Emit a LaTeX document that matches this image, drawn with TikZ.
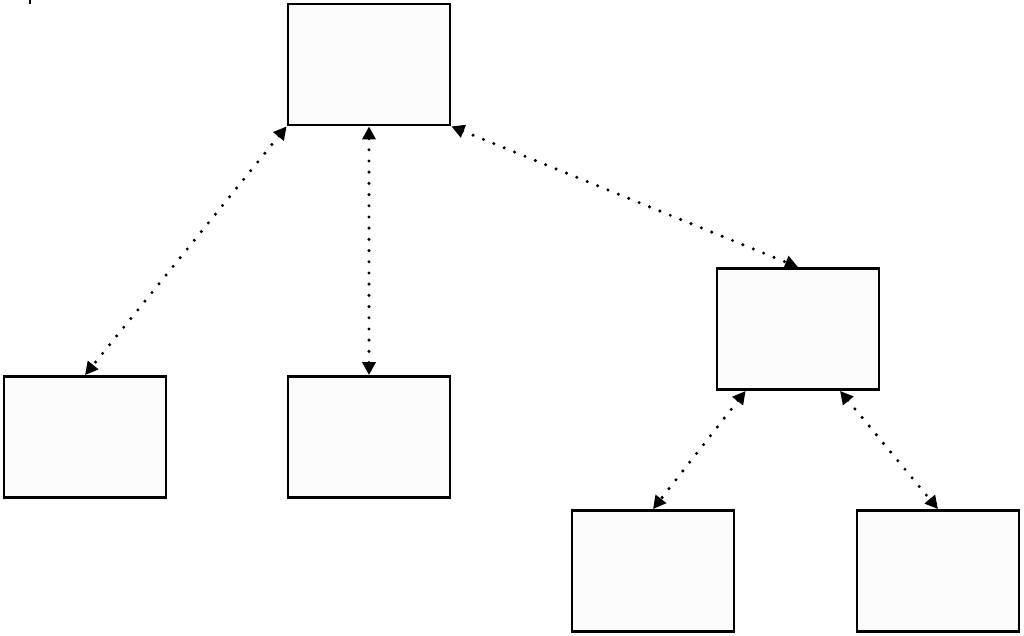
\documentclass[tikz,border=0pt]{standalone}
\usepackage{tikz}
\usetikzlibrary{arrows.meta,positioning}

\tikzset{
  box/.style={draw, line width=1.4pt, fill=black!1, rectangle,
    minimum width=81pt, minimum height=60.5pt, inner sep=0pt},
  link/.style={line width=1.7pt, line cap=round, dash pattern=on 0pt off 5.6pt,
    {Triangle[length=6.5pt,width=6.5pt]}-{Triangle[length=6.5pt,width=6.5pt]}}
}

\begin{document}
\begin{tikzpicture}[x=0.5pt, y=-0.5pt]

\useasboundingbox (0,0) rectangle (1024,636);

% small mark in the corner
\draw[line width=1pt] (29.5,0) -- (29.5,4);

% boxes
\node[box] (root) at (369,64.5) {};
\node[box] (left) at (85,437) {};
\node[box] (mid) at (369,437) {};
\node[box] (right) at (798,329) {};
\node[box] (rleft) at (653,571) {};
\node[box] (rright) at (938,571) {};

% dotted links
\draw[link] (root.south west) -- (left.north);
\draw[link] (root.south) -- (mid.north);
\draw[link] (root.south east) -- (right.north);
\draw[link] ([xshift=15pt]right.south west) -- (rleft.north);
\draw[link] ([xshift=21pt]right.south) -- (rright.north);

\end{tikzpicture}
\end{document}
